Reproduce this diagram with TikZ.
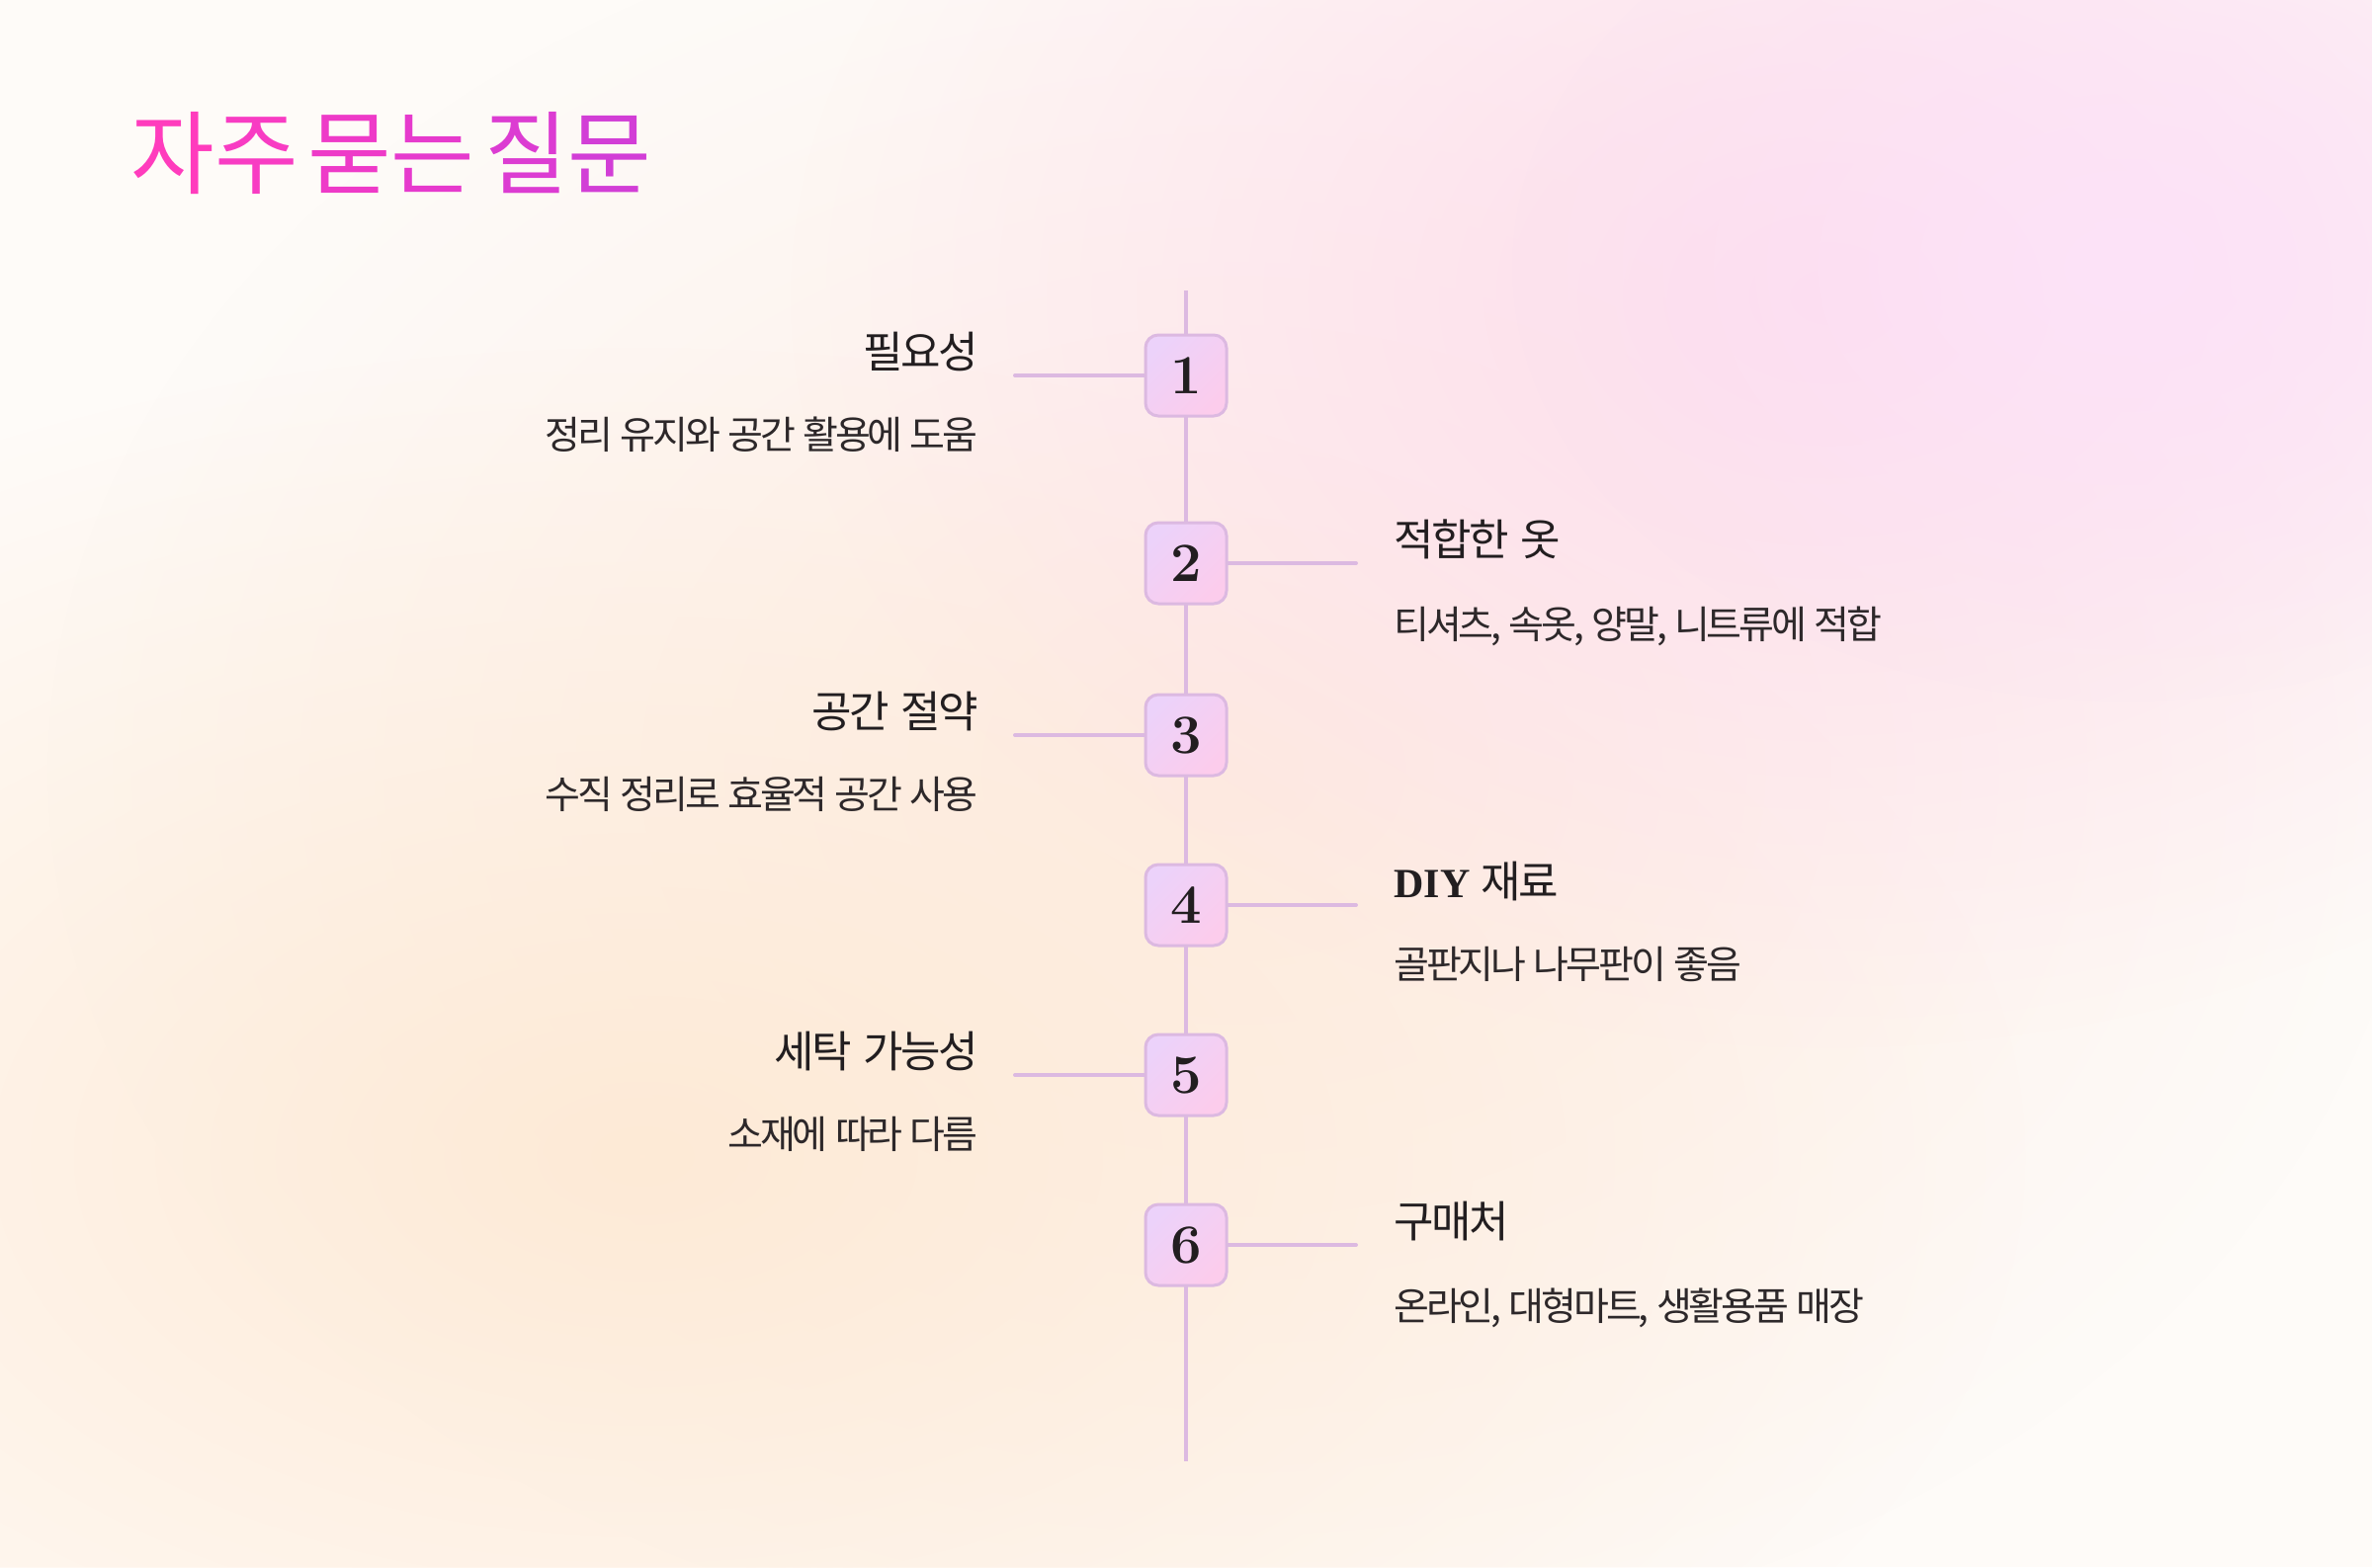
\documentclass[tikz,border=0pt]{standalone}
\usepackage{fontspec}
\usetikzlibrary{fadings}
\newfontfamily\kotitle[LetterSpace=-15,WordSpace=1.4]{Noto Sans CJK KR}
\newfontfamily\kohead[LetterSpace=-6,WordSpace=1.6]{Noto Sans CJK KR}
\newfontfamily\kobody[LetterSpace=-8,WordSpace=1.3]{Noto Sans CJK KR}
\newfontfamily\serifb{Liberation Serif}
\tikzfading[name=glowfade, inner color=transparent!0, outer color=transparent!100]
\definecolor{bgbase}{RGB}{254,251,248}
\definecolor{pinkglow}{RGB}{253,220,236}
\definecolor{magglow}{RGB}{252,226,248}
\definecolor{peachglow}{RGB}{254,234,214}
\definecolor{midglow}{RGB}{253,237,230}
\definecolor{lineC}{RGB}{220,185,225}
\definecolor{boxA}{RGB}{236,210,250}
\definecolor{boxB}{RGB}{252,204,236}
\definecolor{ink}{RGB}{34,30,32}
\definecolor{inkb}{RGB}{45,40,42}
\definecolor{tA}{RGB}{255,60,189}
\definecolor{tB}{RGB}{248,60,195}
\definecolor{tC}{RGB}{238,58,200}
\definecolor{tD}{RGB}{230,58,205}
\definecolor{tE}{RGB}{220,60,210}
\definecolor{tF}{RGB}{210,62,214}
\begin{document}
\begin{tikzpicture}[x=0.5pt,y=-0.5pt,
  numbox/.style={draw=lineC, line width=1.5pt, rounded corners=6.5pt,
    minimum size=41pt, inner sep=0pt, top color=boxA, bottom color=boxB,
    shading angle=45, font=\fontsize{28}{28}\selectfont\bfseries, text=ink},
  conn/.style={draw=lineC, line width=2pt},
  head/.style={font=\kohead\fontsize{22}{26}\selectfont, text=ink, inner sep=0pt},
  body/.style={font=\kobody\fontsize{19.5}{23}\selectfont, text=inkb, inner sep=0pt}]
\useasboundingbox (0,0) rectangle (2400,1586);
\fill[bgbase] (0,0) rectangle (2400,1586);
\begin{scope}
  \clip (0,0) rectangle (2400,1586);
  \fill[midglow, path fading=glowfade] (1250,780) ellipse (1200 and 900);
  \fill[peachglow, path fading=glowfade] (650,1170) ellipse (1400 and 820);
  \fill[pinkglow, path fading=glowfade] (1850,300) ellipse (1050 and 760);
  \fill[magglow, path fading=glowfade] (2150,270) ellipse (620 and 440);
\end{scope}

\node[anchor=west, inner sep=0pt, font=\kotitle\fontsize{46}{50}\selectfont] (title) at (132,155)
  {\textcolor{tA}{자}\textcolor{tB}{주} \textcolor{tC}{묻}\textcolor{tD}{는} \textcolor{tE}{질}\textcolor{tF}{문}};

\coordinate (top) at (1200,294);
\coordinate (bot) at (1200,1479);
\draw[conn] (top) -- (bot);

\node[numbox] (b1) at (1200,380) {1};
\node[numbox] (b2) at (1200,570) {2};
\node[numbox] (b3) at (1200,744) {3};
\node[numbox] (b4) at (1200,916) {4};
\node[numbox] (b5) at (1200,1088) {5};
\node[numbox] (b6) at (1200,1260) {6};

\coordinate (l1) at (1027,380);
\coordinate (r2) at (1372,570);
\coordinate (l3) at (1027,744);
\coordinate (r4) at (1372,916);
\coordinate (l5) at (1027,1088);
\coordinate (r6) at (1372,1260);
\draw[conn, line cap=round] (b1.west) -- (l1);
\draw[conn, line cap=round] (b2.east) -- (r2);
\draw[conn, line cap=round] (b3.west) -- (l3);
\draw[conn, line cap=round] (b4.east) -- (r4);
\draw[conn, line cap=round] (b5.west) -- (l5);
\draw[conn, line cap=round] (b6.east) -- (r6);

\node[head, anchor=east] (h1) at (990,356) {필요성};
\node[body, anchor=east] (d1) at (990,440) {정리 유지와 공간 활용에 도움};
\node[head, anchor=west] (h2) at (1410,546) {적합한 옷};
\node[body, anchor=west] (d2) at (1410,634) {티셔츠, 속옷, 양말, 니트류에 적합};
\node[head, anchor=east] (h3) at (990,720) {공간 절약};
\node[body, anchor=east] (d3) at (990,804) {수직 정리로 효율적 공간 사용};
\node[head, anchor=west] (h4) at (1410,892) {{\serifb\fontsize{21}{24}\selectfont\bfseries DIY} 재료};
\node[body, anchor=west] (d4) at (1410,976) {골판지나 나무판이 좋음};
\node[head, anchor=east] (h5) at (990,1064) {세탁 가능성};
\node[body, anchor=east] (d5) at (990,1148) {소재에 따라 다름};
\node[head, anchor=west] (h6) at (1410,1236) {구매처};
\node[body, anchor=west] (d6) at (1410,1324) {온라인, 대형마트, 생활용품 매장};
\end{tikzpicture}
\end{document}
